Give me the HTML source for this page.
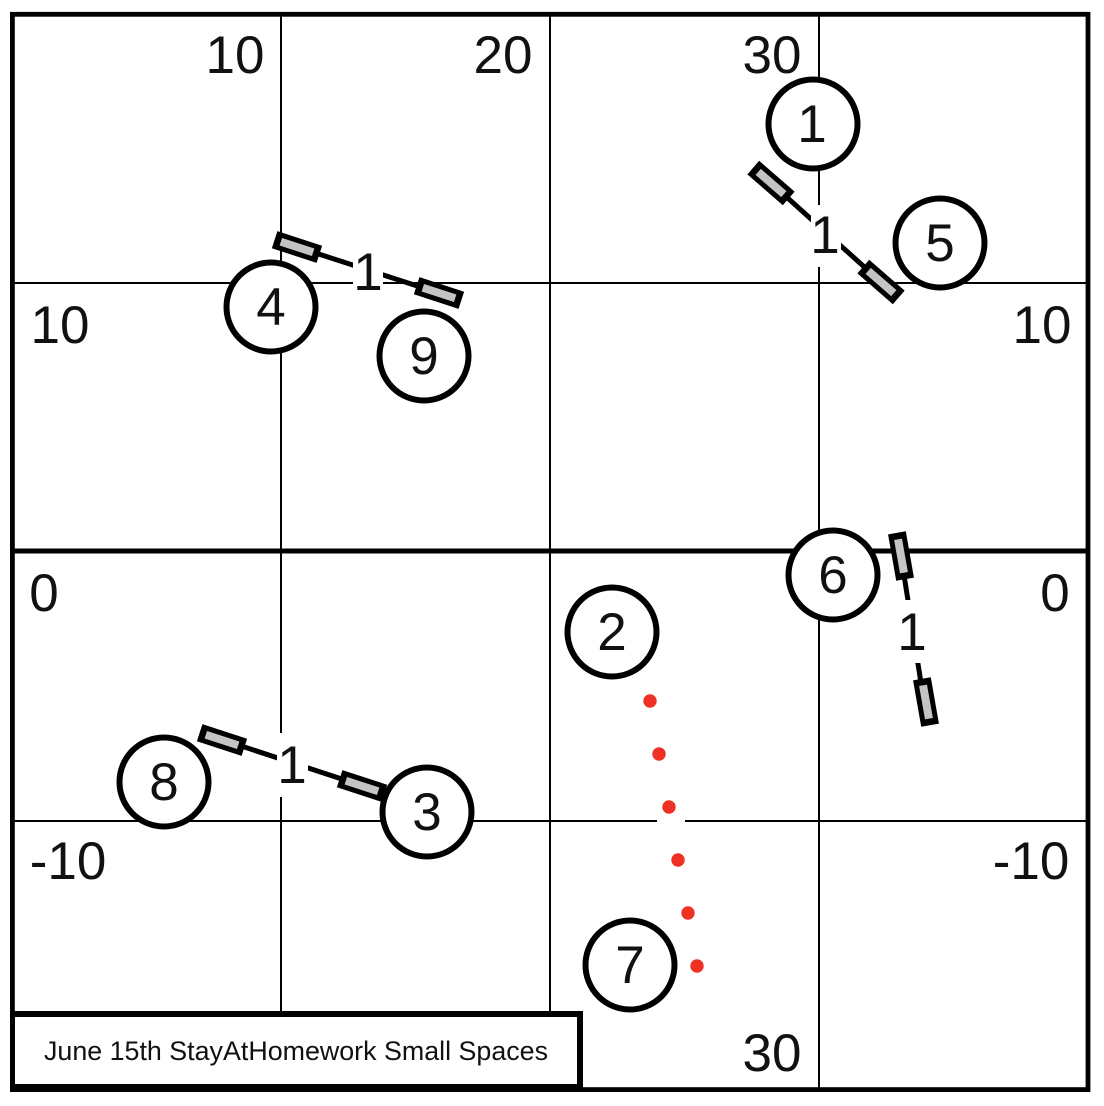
<!DOCTYPE html>
<html><head><meta charset="utf-8"><style>
html,body{margin:0;padding:0;background:#fff;width:1104px;height:1106px;overflow:hidden}
svg{display:block}
text{font-family:"Liberation Sans",sans-serif;fill:#111}
.n{font-size:53px;text-anchor:middle}
.b{fill:#000}
.g{fill:#c4c4c4}
.c{fill:#fff;stroke:#000;stroke-width:6}
.l{stroke:#000;stroke-width:5}
.r{fill:#ee3124}
</style></head><body>
<svg width="1104" height="1106" viewBox="0 0 1104 1106" xmlns="http://www.w3.org/2000/svg">
<rect width="1104" height="1106" fill="#fff"/>
<g stroke="#000" stroke-width="2">
<line x1="281" y1="14" x2="281" y2="1014"/>
<line x1="550" y1="14" x2="550" y2="1014"/>
<line x1="819" y1="14" x2="819" y2="1089"/>
<line x1="14" y1="283" x2="1088" y2="283"/>
<line x1="14" y1="821" x2="1088" y2="821"/>
</g>
<line x1="14" y1="551" x2="1088" y2="551" stroke="#000" stroke-width="5"/>
<rect x="657" y="812" width="28" height="18" fill="#fff"/>
<text class="n" x="235" y="73">10</text>
<text class="n" x="503" y="73">20</text>
<text class="n" x="772" y="73">30</text>
<text class="n" x="60" y="343">10</text>
<text class="n" x="1042" y="343">10</text>
<text class="n" x="44" y="611">0</text>
<text class="n" x="1055" y="611">0</text>
<text class="n" x="68" y="879">-10</text>
<text class="n" x="1031" y="879">-10</text>
<text class="n" x="772" y="1071">30</text>
<!-- pair top-left -->
<line class="l" x1="297" y1="247" x2="439" y2="293"/>
<rect x="353" y="250" width="30" height="44" fill="#fff"/>
<g transform="translate(297 247) rotate(18)"><rect class="b" x="-23.5" y="-9" width="47" height="18"/><rect class="g" x="-17" y="-4" width="34" height="8"/></g>
<g transform="translate(439 293) rotate(18)"><rect class="b" x="-23.5" y="-9" width="47" height="18"/><rect class="g" x="-17" y="-4" width="34" height="8"/></g>
<text class="n" x="368" y="290">1</text>
<!-- pair top-right -->
<line class="l" x1="771" y1="183" x2="881" y2="282"/>
<rect x="811" y="205" width="30" height="62" fill="#fff"/>
<g transform="translate(771 183) rotate(41)"><rect class="b" x="-23.5" y="-9" width="47" height="18"/><rect class="g" x="-17" y="-4" width="34" height="8"/></g>
<g transform="translate(881 282) rotate(41)"><rect class="b" x="-23.5" y="-9" width="47" height="18"/><rect class="g" x="-17" y="-4" width="34" height="8"/></g>
<text class="n" x="825" y="253">1</text>
<!-- pair right -->
<line class="l" x1="901" y1="556" x2="924" y2="702"/>
<rect x="892" y="600" width="42" height="63" fill="#fff"/>
<g transform="translate(901 556) rotate(80)"><rect class="b" x="-23.5" y="-9" width="47" height="18"/><rect class="g" x="-17" y="-4" width="34" height="8"/></g>
<g transform="translate(926 702) rotate(80)"><rect class="b" x="-23.5" y="-9" width="47" height="18"/><rect class="g" x="-17" y="-4" width="34" height="8"/></g>
<text class="n" x="912" y="650">1</text>
<!-- pair lower-left -->
<line class="l" x1="223" y1="740" x2="363" y2="786"/>
<rect x="277" y="733" width="31" height="64" fill="#fff"/>
<g transform="translate(222 740) rotate(18)"><rect class="b" x="-23.5" y="-9" width="47" height="18"/><rect class="g" x="-17" y="-4" width="34" height="8"/></g>
<g transform="translate(362 786) rotate(18)"><rect class="b" x="-23.5" y="-9" width="47" height="18"/><rect class="g" x="-17" y="-4" width="34" height="8"/></g>
<text class="n" x="292" y="783">1</text>
<!-- players -->
<circle class="c" cx="813" cy="124" r="44.5"/><text class="n" x="812" y="142">1</text>
<circle class="c" cx="940" cy="243" r="44.5"/><text class="n" x="940" y="261">5</text>
<circle class="c" cx="271" cy="307" r="44.5"/><text class="n" x="271" y="325">4</text>
<circle class="c" cx="424" cy="356" r="44.5"/><text class="n" x="424" y="374">9</text>
<circle class="c" cx="833" cy="575" r="44.5"/><text class="n" x="833" y="593">6</text>
<circle class="c" cx="612" cy="632" r="44.5"/><text class="n" x="612" y="650">2</text>
<circle class="c" cx="164" cy="782" r="44.5"/><text class="n" x="164" y="800">8</text>
<circle class="c" cx="427" cy="812" r="44.5"/><text class="n" x="427" y="830">3</text>
<circle class="c" cx="630" cy="965" r="44.5"/><text class="n" x="630" y="983">7</text>
<!-- red dots -->
<circle class="r" cx="650" cy="701" r="6.7"/>
<circle class="r" cx="659" cy="754" r="6.7"/>
<circle class="r" cx="669" cy="807" r="6.7"/>
<circle class="r" cx="678" cy="860" r="6.7"/>
<circle class="r" cx="688" cy="913" r="6.7"/>
<circle class="r" cx="697" cy="966" r="6.7"/>
<!-- frame -->
<rect x="12.4" y="14.3" width="1075.6" height="1075.3" fill="none" stroke="#000" stroke-width="4.8"/>
<rect x="10" y="1011" width="573" height="81" fill="#000"/>
<rect x="15" y="1017" width="562" height="67" fill="#fff"/>
<text x="44" y="1060" font-size="26.5" textLength="504" lengthAdjust="spacingAndGlyphs">June 15th StayAtHomework Small Spaces</text>
</svg>
</body></html>
